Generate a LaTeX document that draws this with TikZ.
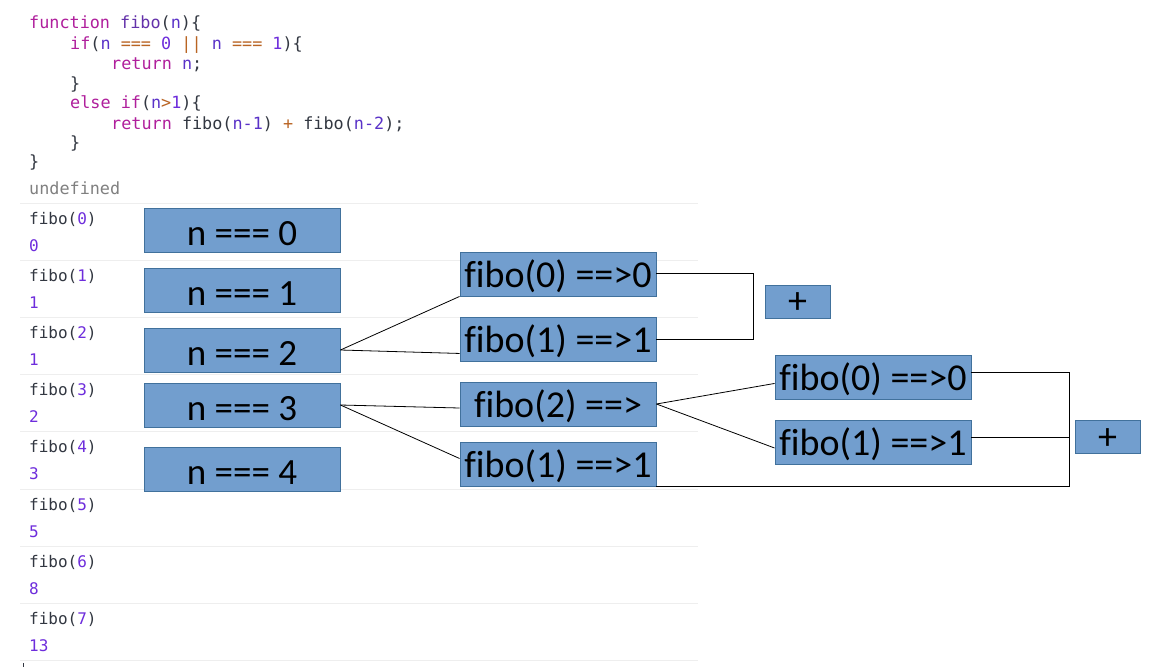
\documentclass[tikz,border=0pt]{standalone}
\usepackage{fontspec}
\newfontfamily\codefont{DejaVu Sans Mono}
\newfontfamily\boxfont[Ligatures=NoCommon]{Carlito}
\usetikzlibrary{calc}
\definecolor{kw}{RGB}{176,31,156}
\definecolor{fn}{RGB}{100,50,170}
\definecolor{var}{RGB}{90,50,200}
\definecolor{num}{RGB}{110,45,220}
\definecolor{op}{RGB}{185,100,35}
\definecolor{txt}{RGB}{50,55,65}
\definecolor{undef}{RGB}{128,128,128}
\definecolor{sepline}{RGB}{238,238,238}
\definecolor{boxblue}{RGB}{114,158,206}
\definecolor{bord}{RGB}{65,113,156}
\begin{document}
\begin{tikzpicture}[x=1pt,y=-1pt,
  code/.style={anchor=base west,inner sep=0pt,text=txt,font=\codefont\fontsize{16.8}{20}\selectfont},
  cons/.style={anchor=base west,inner sep=0pt,text=txt,font=\codefont\fontsize{16}{19}\selectfont},
  sepl/.style={draw=sepline,line width=1pt},
  bx/.style={draw=bord,fill=boxblue,line width=0.9pt,inner sep=0pt,text=black,text depth=0pt},
  nbox/.style={bx,minimum width=196pt,minimum height=44pt,text height=30pt,font=\boxfont\fontsize{37}{40}\selectfont},
  fbox/.style={bx,minimum width=196pt,minimum height=44pt,text height=26pt,font=\boxfont\fontsize{38}{40}\selectfont},
  pbox/.style={bx,minimum width=65pt,minimum height=33pt,text height=24pt,font=\boxfont\fontsize{38}{40}\selectfont},
  conn/.style={draw=black,line width=0.8pt}]
\useasboundingbox[fill=white] (0,0) rectangle (1152,667);

% code
\node[code] (c1) at (29,28) {\textcolor{kw}{function} \textcolor{fn}{fibo}(\textcolor{var}{n})\{};
\node[code] (c2) at (70,49) {\textcolor{kw}{if}(\textcolor{var}{n} \textcolor{op}{===} \textcolor{num}{0} \textcolor{op}{||} \textcolor{var}{n} \textcolor{op}{===} \textcolor{num}{1})\{};
\node[code] (c3) at (111,69) {\textcolor{kw}{return} \textcolor{var}{n};};
\node[code] (c4) at (70,89) {\}};
\node[code] (c5) at (70,108) {\textcolor{kw}{else} \textcolor{kw}{if}(\textcolor{var}{n}\textcolor{op}{>}\textcolor{num}{1})\{};
\node[code] (c6) at (111,129) {\textcolor{kw}{return} fibo(\textcolor{var}{n-1}) \textcolor{op}{+} fibo(\textcolor{var}{n-2});};
\node[code] (c7) at (70,148) {\}};
\node[code] (c8) at (29,167) {\}};
\node[code,text=undef] (c9) at (29,194) {undefined};

% console
\foreach \k in {0,...,8} {
  \draw[sepl] (20,{203+57.2*\k}) -- (698,{203+57.2*\k});
}
\foreach \k/\v in {0/0,1/1,2/1,3/2,4/3,5/5,6/8,7/13} {
  \node[cons] (q\k) at (29,{224+57.2*\k}) {fibo(\textcolor{num}{\k})};
  \node[cons,text=num] (r\k) at (29,{251+57.2*\k}) {\v};
}
\draw[txt,line width=0.8pt] (23,663) -- (23,667);

% n boxes
\node[nbox] (n0) at (242,230.5) {n === 0};
\node[nbox] (n1) at (242,290) {n === 1};
\node[nbox] (n2) at (242,350) {n === 2};
\node[nbox] (n3) at (242,405) {n === 3};
\node[nbox] (n4) at (242,469.5) {n === 4};

% fibo boxes
\node[fbox] (f0a) at (558,274) {fibo(0) ==>0};
\node[fbox] (f1a) at (558,339) {fibo(1) ==>1};
\node[fbox] (f2) at (558,404) {fibo(2) ==>};
\node[fbox] (f1b) at (558,464.5) {fibo(1) ==>1};
\node[fbox] (g0) at (873,377) {fibo(0) ==>0};
\node[fbox] (g1) at (873,442) {fibo(1) ==>1};

% plus boxes
\node[pbox] (p1) at (797.5,301.5) {+};
\node[pbox] (p2) at (1107.5,437) {+};

% connectors
\draw[conn] (n2.east) -- (f0a.south west);
\draw[conn] (n2.east) -- ($(f1a.south west)+(0,-8)$);
\draw[conn] (n3.east) -- ($(f2.west)+(0,4)$);
\draw[conn] (n3.east) -- ($(f1b.west)+(0,-6)$);
\draw[conn] (f2.east) -- ($(g0.south west)+(0,-16)$);
\draw[conn] (f2.east) -- ($(g1.west)+(0,6)$);
\draw[conn] ($(f0a.east)+(0,-1)$) -- ++(97,0) |- (f1a.east);
\draw[conn] ($(g0.east)+(0,-5)$) -- ++(98,0) |- ($(f1b.south east)+(0,-1)$);
\draw[conn] ($(g1.east)+(0,-5)$) -- ++(98,0);
\end{tikzpicture}
\end{document}
